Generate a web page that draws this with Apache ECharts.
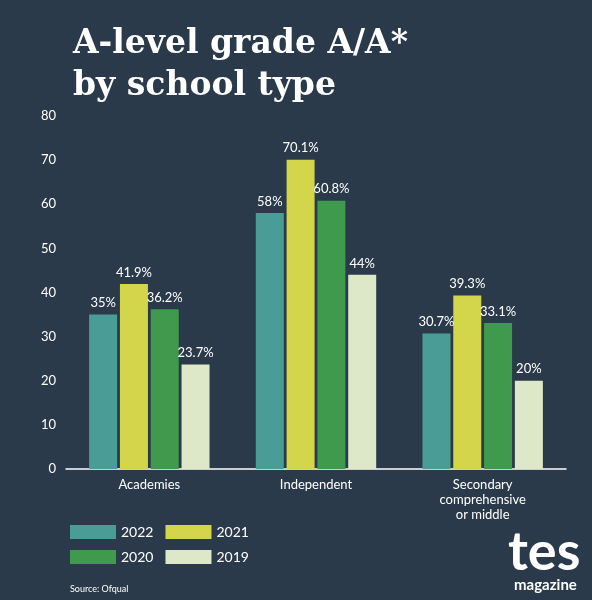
<!DOCTYPE html>
<html><head><meta charset="utf-8">
<script src="https://cdn.jsdelivr.net/npm/echarts@6/dist/echarts.min.js"></script>
<style>html,body{margin:0;padding:0;background:#2b3a4a}#c{width:592px;height:600px}</style>
</head><body><div id="c"></div>
<script>
const categories = ['Academies', 'Independent', 'Secondary\ncomprehensive\nor middle'];
const v2022 = [35, 58, 30.7];
const v2021 = [41.9, 70.1, 39.3];
const v2020 = [36.2, 60.8, 33.1];
const v2019 = [23.7, 44, 20];
const colors = {'2022':'#4a9d97','2021':'#d3d64b','2020':'#3f9a4e','2019':'#dde8c8'};
const chart = echarts.init(document.getElementById('c'));
const mk = (name, data) => ({
  name, type:'bar', data, barWidth:28, barGap:'10%',
  itemStyle:{color:colors[name]},
  label:{show:true, position:'top', color:'#ffffff', fontSize:13, fontFamily:'Lato', formatter:p=>p.value+'%'}
});
const legText = {color:'#ffffff', fontSize:14, fontFamily:'Lato'};
chart.setOption({
  backgroundColor:'#2b3a4a',
  animation:false,
  title:{text:'A-level grade A/A*\nby school type', left:68, top:18,
    textStyle:{color:'#ffffff', fontSize:33, fontWeight:'bold', fontFamily:'DejaVu Serif', lineHeight:42}},
  grid:{left:66, right:26, top:116, bottom:131},
  xAxis:{type:'category', data:categories,
    axisLine:{lineStyle:{color:'#ffffff', width:1.5}}, axisTick:{show:false},
    axisLabel:{color:'#ffffff', fontSize:13, fontFamily:'Lato', lineHeight:15, margin:8}},
  yAxis:{type:'value', min:0, max:80, interval:10, splitLine:{show:false},
    axisLabel:{color:'#ffffff', fontSize:13, fontFamily:'Lato', margin:10}},
  legend:[
    {data:['2022','2021'], left:65, top:520, itemWidth:46, itemHeight:14, itemGap:12, textStyle:legText, icon:'rect'},
    {data:['2020','2019'], left:65, top:545, itemWidth:46, itemHeight:14, itemGap:12, textStyle:legText, icon:'rect'}
  ],
  graphic:[
    {type:'text', left:70, top:585, style:{text:'Source: Ofqual', fill:'#ffffff', fontSize:9, fontFamily:'Lato'}},
    {type:'text', left:508, top:526, style:{text:'tes', fill:'#ffffff', fontSize:54, fontWeight:'bold', fontFamily:'Lato'}},
    {type:'text', left:514, top:578, style:{text:'magazine', fill:'#ffffff', fontSize:15, fontWeight:'bold', fontFamily:'Lato'}}
  ],
  series:[mk('2022',v2022), mk('2021',v2021), mk('2020',v2020), mk('2019',v2019)]
});
</script></body></html>
